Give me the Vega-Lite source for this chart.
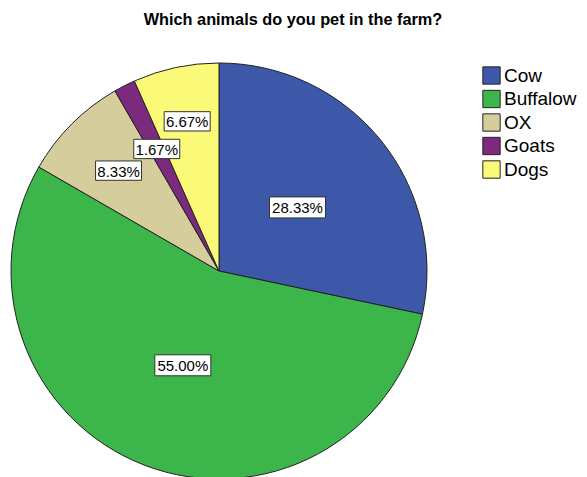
{
  "$schema": "https://vega.github.io/schema/vega-lite/v6.json",
  "width": 416,
  "height": 412,
  "autosize": {"type": "none"},
  "padding": {"left": 11, "top": 65, "right": 160, "bottom": 0},
  "background": "white",
  "config": {"view": {"stroke": null}, "font": "Liberation Sans"},
  "title": {
    "text": "Which animals do you pet in the farm?",
    "font": "Liberation Sans",
    "fontSize": 16.3,
    "fontWeight": "bold",
    "color": "#000000",
    "anchor": "middle",
    "dx": 74,
    "baseline": "alphabetic",
    "offset": 20
  },
  "data": {
    "values": [
      {"animal": "Cow", "pct": 28.33, "idx": 1, "label": "28.33%", "group": "big"},
      {"animal": "Buffalow", "pct": 55.0, "idx": 2, "label": "55.00%", "group": "big"},
      {"animal": "OX", "pct": 8.33, "idx": 3, "label": "8.33%", "group": "small"},
      {"animal": "Goats", "pct": 1.67, "idx": 4, "label": "1.67%", "group": "small"},
      {"animal": "Dogs", "pct": 6.67, "idx": 5, "label": "6.67%", "group": "small"}
    ]
  },
  "transform": [
    {"window": [{"op": "sum", "field": "pct", "as": "cum"}], "sort": [{"field": "idx"}], "frame": [null, 0]},
    {"joinaggregate": [{"op": "sum", "field": "pct", "as": "total"}]},
    {"calculate": "(datum.cum - datum.pct / 2) / datum.total * 2 * PI", "as": "mid"},
    {"calculate": "datum.group === 'big' ? 101 : (datum.animal === 'Dogs' ? 153 : (datum.animal === 'Goats' ? 137 : 142))", "as": "rr"},
    {"calculate": "datum.rr * sin(datum.mid)", "as": "bx"},
    {"calculate": "datum.rr * cos(datum.mid)", "as": "by"}
  ],
  "layer": [
    {
      "mark": {"type": "arc", "outerRadius": 208, "stroke": "#222222", "strokeWidth": 1},
      "encoding": {
        "theta": {"field": "pct", "type": "quantitative", "stack": true},
        "order": {"field": "idx", "type": "quantitative"},
        "color": {
          "field": "animal",
          "type": "nominal",
          "sort": ["Cow", "Buffalow", "OX", "Goats", "Dogs"],
          "scale": {
            "domain": ["Cow", "Buffalow", "OX", "Goats", "Dogs"],
            "range": ["#3e58a9", "#3cb54a", "#d5ce9c", "#7b2a7e", "#fbf978"]
          },
          "legend": {
            "title": null,
            "orient": "none",
            "legendX": 471,
            "legendY": 1,
            "symbolType": "square",
            "symbolSize": 300,
            "symbolStrokeColor": "#222222",
            "symbolStrokeWidth": 1,
            "symbolOpacity": 1,
            "labelFont": "Liberation Sans",
            "labelFontSize": 19,
            "labelColor": "#000000",
            "labelOffset": 3,
            "rowPadding": 0.5
          }
        }
      }
    },
    {
      "mark": {"type": "point", "filled": true, "fill": "white", "stroke": "#333333", "strokeWidth": 1, "opacity": 1},
      "encoding": {
        "x": {"field": "bx", "type": "quantitative", "scale": {"domain": [-208, 208], "nice": false, "zero": false}, "axis": null},
        "y": {"field": "by", "type": "quantitative", "scale": {"domain": [-206, 206], "nice": false, "zero": false}, "axis": null},
        "shape": {"condition": {"test": "datum.group === 'big'", "value": "M-1,-0.375H1V0.375H-1Z"}, "value": "M-1,-0.42H1V0.42H-1Z"},
        "size": {"condition": {"test": "datum.group === 'big'", "value": 3136}, "value": 2116}
      }
    },
    {
      "mark": {"type": "text", "font": "Liberation Sans", "fontSize": 15, "color": "#000000", "baseline": "middle", "align": "center", "dy": 1},
      "encoding": {
        "x": {"field": "bx", "type": "quantitative", "scale": {"domain": [-208, 208], "nice": false, "zero": false}, "axis": null},
        "y": {"field": "by", "type": "quantitative", "scale": {"domain": [-206, 206], "nice": false, "zero": false}, "axis": null},
        "text": {"field": "label"}
      }
    }
  ]
}
